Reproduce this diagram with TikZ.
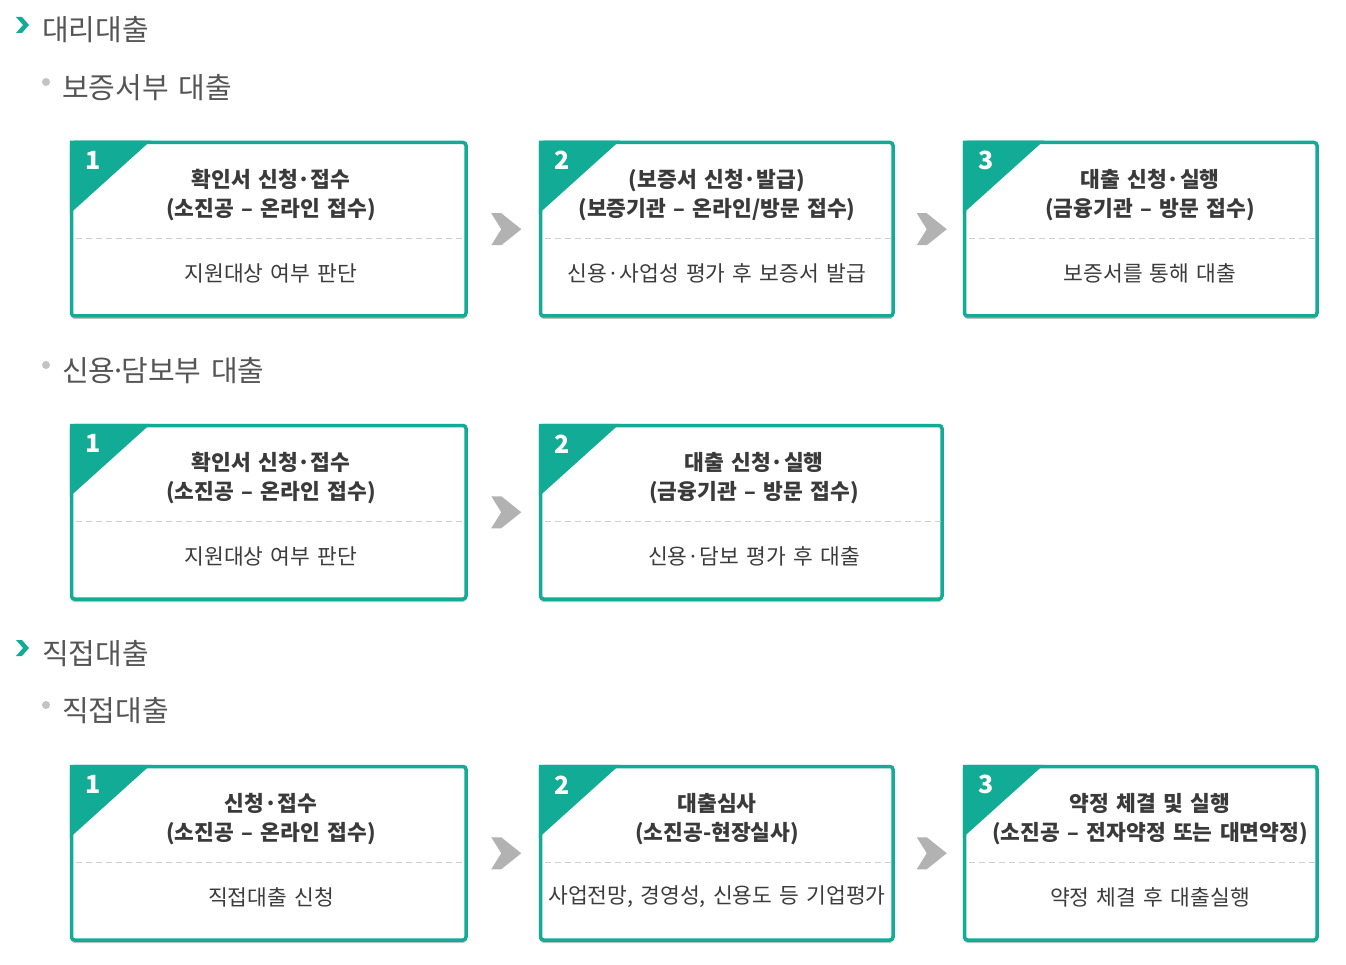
\documentclass[tikz,border=0pt]{standalone}
\usepackage{fontspec}
\setmainfont{Noto Sans CJK KR}[WordSpace=1.5]
\usetikzlibrary{calc,shadows}
\definecolor{tealc}{RGB}{18,172,150}
\definecolor{txtc}{RGB}{58,58,58}
\definecolor{subc}{RGB}{60,60,60}
\definecolor{hdrc}{RGB}{85,85,85}
\definecolor{chevc}{RGB}{178,178,178}
\definecolor{dashc}{RGB}{205,205,205}
\definecolor{dotc}{RGB}{195,195,195}
\tikzset{
  stepbox/.style={draw=tealc, line width=3.5pt, rounded corners=3pt, fill=white,
    drop shadow={shadow xshift=0pt, shadow yshift=-3pt, opacity=0.25, fill=black},
    anchor=north west, inner sep=0pt},
  corner/.style={fill=tealc},
  numtext/.style={text=white, font=\fontsize{25}{25}\selectfont\bfseries, inner sep=0pt},
  titletext/.style={text=txtc, font=\fontsize{21.5}{29}\selectfont\bfseries, align=center, inner sep=0pt},
  bottomtext/.style={text=subc, font=\fontsize{21.5}{24}\selectfont, inner sep=0pt},
  dashline/.style={draw=dashc, line width=1pt, dash pattern=on 6pt off 4pt},
  chevron/.style={fill=chevc},
  headchev/.style={fill=tealc},
  headtext/.style={text=hdrc, font=\fontsize{29}{32}\selectfont, anchor=west, inner sep=0pt},
  subdot/.style={fill=dotc},
}
\newcommand\tdot{\kern-0.18em·\kern-0.18em}
\newcommand\mkbox[9]{%
  \node[stepbox, minimum width={#3-#2-3.5}, minimum height=173.5] (#1) at (#2+1.75,#4+1.75) {};
  \fill[corner] ($(#1.north west)+(0,0)$) -- ++(81,0) -- ++(-81,73) -- cycle;
  \node[numtext] (#1n) at ($(#1.north west)+(23,20)$) {#5};
  \node[titletext] (#1t) at (#6,#4+56) {#7\\#8};
  \draw[dashline] ($(#1.north west)+(6,98)$) -- ($(#1.north east)+(-3,98)$);
  \node[bottomtext] (#1b) at (#6,#4+134) {#9};
}
\newcommand\mkchev[3]{%
  \coordinate (#1) at ($(#2.east)!0.5!(#3.west)+(3,0)$);
  \fill[chevron] ($(#1)+(-15,-16)$) -- ++(10,0) -- ++(20,16) -- ++(-20,16) -- ++(-10,0) -- ++(10,-16) -- cycle;
}
\begin{document}
\begin{tikzpicture}[x=1pt,y=-1pt]
\useasboundingbox[fill=white] (0,0) rectangle (1346,965);

% headers
\fill[headchev] (16,17) -- ++(6,0) -- ++(7,8) -- ++(-7,8) -- ++(-6,0) -- ++(7,-8) -- cycle;
\node[headtext] (h1) at (42,30) {대리대출};
\fill[subdot] (46,82) circle (4);
\node[headtext] (s1) at (62,88) {보증서부 대출};

\fill[subdot] (46,365) circle (4);
\node[headtext] (s2) at (62,371) {신용\tdot 담보부 대출};

\fill[headchev] (16,640) -- ++(6,0) -- ++(7,8) -- ++(-7,8) -- ++(-6,0) -- ++(7,-8) -- cycle;
\node[headtext] (h2) at (42,654) {직접대출};
\fill[subdot] (46,705) circle (4);
\node[headtext] (s3) at (62,711) {직접대출};

% row 1
\mkbox{a1}{68}{466}{139}{1}{271}{확인서 신청·접수}{(소진공 – 온라인 접수)}{지원대상 여부 판단}
\mkbox{a2}{537}{893}{139}{2}{717}{(보증서 신청·발급)}{(보증기관 – 온라인/방문 접수)}{신용·사업성 평가 후 보증서 발급}
\mkbox{a3}{961}{1317}{139}{3}{1150}{대출 신청·실행}{(금융기관 – 방문 접수)}{보증서를 통해 대출}
\mkchev{c12}{a1}{a2}
\mkchev{c23}{a2}{a3}

% row 2
\mkbox{b1}{68}{466}{422}{1}{271}{확인서 신청·접수}{(소진공 – 온라인 접수)}{지원대상 여부 판단}
\mkbox{b2}{537}{942}{422}{2}{754}{대출 신청·실행}{(금융기관 – 방문 접수)}{신용·담보 평가 후 대출}
\mkchev{d12}{b1}{b2}

% row 3
\mkbox{e1}{68}{466}{763}{1}{271}{신청·접수}{(소진공 – 온라인 접수)}{직접대출 신청}
\mkbox{e2}{537}{893}{763}{2}{717}{대출심사}{(소진공-현장실사)}{사업전망, 경영성, 신용도 등 기업평가}
\mkbox{e3}{961}{1317}{763}{3}{1150}{약정 체결 및 실행}{(소진공 – 전자약정 또는 대면약정)}{약정 체결 후 대출실행}
\mkchev{f12}{e1}{e2}
\mkchev{f23}{e2}{e3}
\end{tikzpicture}
\end{document}
